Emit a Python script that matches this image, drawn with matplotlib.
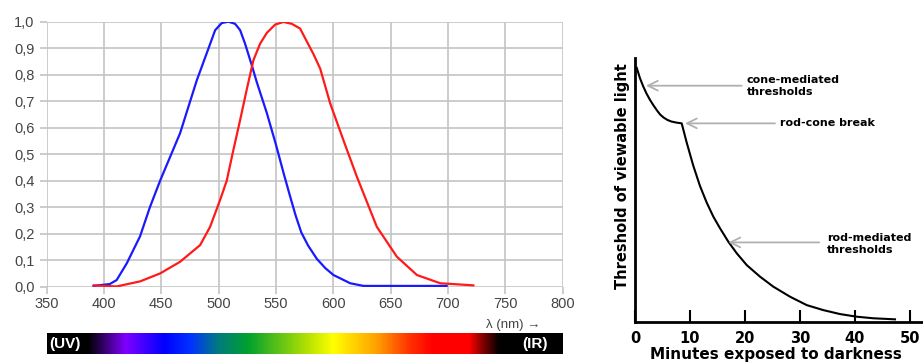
import matplotlib
matplotlib.use("Agg")
import matplotlib.pyplot as plt
import numpy as np
from matplotlib.colors import LinearSegmentedColormap

# --- left chart: normalised sensitivity curves (wavelength in nm)
blue_nm = [390.7, 405, 411, 419.8, 431.4, 440, 448.9, 466.3, 480.9, 491, 496.9,
           502.7, 508.5, 514.3, 518.7, 523, 528.9, 533.2, 542, 550, 556.5, 562,
           567, 572, 578, 585.6, 593, 600.1, 614.7, 626.3, 699]
blue_val = [0.003, 0.01, 0.025, 0.088, 0.19, 0.30, 0.40, 0.579, 0.779, 0.898, 0.968,
            0.995, 1.0, 0.992, 0.968, 0.917, 0.835, 0.772, 0.655, 0.535, 0.43, 0.345,
            0.27, 0.205, 0.155, 0.105, 0.07, 0.044, 0.013, 0.003, 0.003]

red_nm = [390.7, 411, 431.4, 448.9, 466.3, 483.8, 492.5, 501.2, 507, 512.5, 518.7,
          524.5, 530.3, 536.1, 542, 549.2, 556.5, 563.8, 571, 576.9, 582.6, 588.5,
          597.2, 609, 620.5, 637.9, 655.4, 672.9, 693.2, 722.3]
red_val = [0.005, 0.001, 0.02, 0.05, 0.094, 0.157, 0.226, 0.327, 0.40, 0.51, 0.629,
           0.745, 0.855, 0.917, 0.958, 0.989, 0.999, 0.992, 0.974, 0.925, 0.878, 0.823,
           0.692, 0.55, 0.415, 0.226, 0.113, 0.044, 0.013, 0.005]

x_ticks = [350, 400, 450, 500, 550, 600, 650, 700, 750, 800]
y_ticks = [0.0, 0.1, 0.2, 0.3, 0.4, 0.5, 0.6, 0.7, 0.8, 0.9, 1.0]

# spectrum strip colour stops (nm, colour)
spec_nm = [350, 385, 418, 451.5, 475, 498.6, 524.8, 577, 600, 638, 667, 687, 719, 731, 745.5, 800]
spec_col = ['#000000', '#000000', '#7f00ff', '#0000ff', '#0033ff', '#007a80', '#00a030',
            '#b4e100', '#ffff00', '#ffa000', '#ff3000', '#ff0000', '#ff0000', '#800000',
            '#000000', '#000000']

# --- right chart: dark adaptation curve
dark_min = [0.31, 0.91, 1.5, 2.1, 2.73, 3.4, 4.0, 4.55, 5.2, 5.9, 6.6, 7.5, 8.49,
            9.4, 10.6, 11.82, 13.04, 14.24, 15.45, 16.96, 18.49, 20.31, 22.73, 25.15,
            28.18, 31.22, 34.24, 37.27, 40.31, 43.33, 47.27]
dark_thr = [0.964, 0.924, 0.893, 0.866, 0.842, 0.820, 0.802, 0.787, 0.775, 0.766, 0.760,
            0.756, 0.753, 0.68, 0.592, 0.515, 0.452, 0.399, 0.355, 0.304, 0.260, 0.215,
            0.171, 0.133, 0.095, 0.063, 0.044, 0.029, 0.019, 0.013, 0.009]
dark_ticks = [0, 10, 20, 30, 40, 50]

W, H = 923, 363
fig = plt.figure(figsize=(W / 100, H / 100), dpi=100)
sans = ['Liberation Sans', 'DejaVu Sans']
grid_c = '#c4c4c4'
txt_c = '#444444'

# left sensitivity plot
ax = fig.add_axes([46.7 / W, 1 - 286.7 / H, 516 / W, 265 / H])
ax.plot(blue_nm, blue_val, color='#1a1aff', lw=1.6, solid_capstyle='round')
ax.plot(red_nm, red_val, color='#ff1a1a', lw=1.6, solid_capstyle='round')
ax.set_xlim(350, 800)
ax.set_ylim(0, 1.0)
ax.set_xticks(x_ticks)
ax.set_yticks(y_ticks)
ax.set_xticklabels([str(t) for t in x_ticks], family=sans, fontsize=10.5, color=txt_c)
ax.set_yticklabels([f'{t:.1f}'.replace('.', ',') for t in y_ticks], family=sans,
                   fontsize=10.5, color=txt_c)
ax.grid(True, color=grid_c, lw=1.2)
ax.set_axisbelow(True)
ax.tick_params(color=grid_c, width=1.2, length=4.7)
ax.tick_params(axis='x', pad=3)
ax.tick_params(axis='y', pad=4)
for s in ax.spines.values():
    s.set_visible(False)
fig.text(540 / W, 1 - 325 / H, 'λ (nm) →', family=sans, fontsize=9.5, color=txt_c,
         ha='right', va='center')

# spectrum strip
axb = fig.add_axes([46.7 / W, 1 - 354.3 / H, 516 / W, 21 / H])
stops = [(n - 350) / 450 for n in spec_nm]
cmap = LinearSegmentedColormap.from_list('spec', list(zip(stops, spec_col)))
axb.imshow(np.linspace(0, 1, 600)[None, :], cmap=cmap, aspect='auto', extent=[350, 800, 0, 1])
axb.set_axis_off()
axb.text(0.004, 0.5, '(UV)', transform=axb.transAxes, ha='left', va='center',
         family=sans, fontsize=11, fontweight='bold', color='white')
axb.text(0.9715, 0.5, '(IR)', transform=axb.transAxes, ha='right', va='center',
         family=sans, fontsize=11, fontweight='bold', color='white')

# right dark adaptation plot
ax2 = fig.add_axes([635 / W, 1 - 321.7 / H, (W - 635) / W, 263.4 / H])
ax2.plot(dark_min, dark_thr, color='black', lw=1.5)
ax2.set_xlim(0, 288 / 5.5)
ax2.set_ylim(0, 1)
ax2.set_xticks(dark_ticks)
ax2.set_xticklabels([str(t) for t in dark_ticks], fontsize=10.5, fontweight='bold')
ax2.set_yticks([])
ax2.tick_params(axis='x', direction='in', length=8.4, width=1.5, pad=6.5)
for side in ['top', 'right']:
    ax2.spines[side].set_visible(False)
for side in ['left', 'bottom']:
    ax2.spines[side].set_linewidth(2)
ax2.patch.set_alpha(0)

arrow = dict(arrowstyle='->,head_length=0.7,head_width=0.35', color='#b0b0b0', lw=1.3,
             mutation_scale=10, shrinkA=0, shrinkB=0)
ax2.annotate('', xy=(2.0, 0.896), xytext=(19.4, 0.896), arrowprops=arrow)
ax2.annotate('', xy=(9.1, 0.753), xytext=(25.45, 0.753), arrowprops=arrow)
ax2.annotate('', xy=(17.0, 0.301), xytext=(33.5, 0.301), arrowprops=arrow)
ax2.text(20.3, 0.895, 'cone-mediated\nthresholds', fontsize=8, fontweight='bold',
         ha='left', va='center')
ax2.text(26.4, 0.753, 'rod-cone break', fontsize=8, fontweight='bold',
         ha='left', va='center')
ax2.text(34.85, 0.296, 'rod-mediated\nthresholds', fontsize=8, fontweight='bold',
         ha='left', va='center')

fig.text(622 / W, 1 - 176.5 / H, 'Threshold of viewable light', rotation=90,
         fontsize=10.5, fontweight='bold', ha='center', va='center')
fig.text(775.5 / W, 0.012, 'Minutes exposed to darkness', fontsize=11,
         fontweight='bold', ha='center', va='baseline')

fig.savefig('out.png', dpi=100)
